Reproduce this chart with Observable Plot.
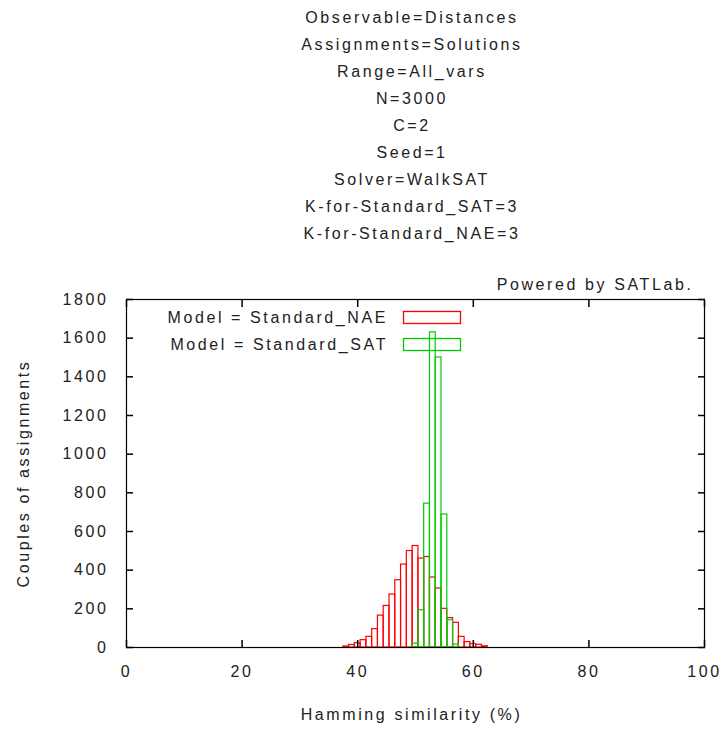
<!DOCTYPE html>
<html><head><meta charset="utf-8">
<script src="https://cdn.jsdelivr.net/npm/d3@7"></script>
<script src="https://cdn.jsdelivr.net/npm/@observablehq/plot@0.6"></script>
<style>
body{margin:0;background:#fff;font-family:"Liberation Sans",Arial,sans-serif;width:721px;height:732px;overflow:hidden;position:relative}
#titles{position:absolute;left:0;top:4px;width:824px;text-align:center;font-size:16px;line-height:27px;color:#222;letter-spacing:2.6px}
#chart{position:absolute;left:0;top:250px}
.lg{position:absolute;font-size:16px;color:#222;letter-spacing:2.6px;line-height:18px;white-space:nowrap;text-align:right}
.sw{position:absolute;left:402px;width:60px;height:16px;overflow:visible}
</style></head><body>
<div id="titles"></div>
<div id="chart"></div>
<div id="legend"></div>
<script>
const titleLines = ["Observable=Distances","Assignments=Solutions","Range=All_vars","N=3000","C=2","Seed=1","Solver=WalkSAT","K-for-Standard_SAT=3","K-for-Standard_NAE=3"];
const seriesNames = ["Model = Standard_NAE","Model = Standard_SAT"];
const seriesColors = ["#ff0000","#00cc00"];
const naeBins = [38,39,40,41,42,43,44,45,46,47,48,49,50,51,52,53,54,55,56,57,58,59,60,61,62];
const naeCounts = [5,13,22,38,55,95,165,215,274,348,429,499,525,460,468,362,305,200,152,128,55,28,18,14,6];
const satBins = [50,51,52,53,54,55,56,57];
const satCounts = [20,193,744,1630,1500,688,141,15];
const xTicks = [0,20,40,60,80,100];
const yTicks = [0,200,400,600,800,1000,1200,1400,1600,1800];
const xLabel = "Hamming similarity (%)";
const yLabel = "Couples of assignments";
const powered = "Powered by SATLab.";

document.getElementById("titles").innerHTML = titleLines.map(t => `<div>${t}</div>`).join("");

const naeData = naeBins.map((b, i) => ({x: b, y: naeCounts[i]}));
const satData = satBins.map((b, i) => ({x: b, y: satCounts[i]}));

const T = 7; // inward tick length (px)
const noText = () => "";
const tk = {stroke: "#000", strokeWidth: 1.5, tickFormat: noText, label: null};

const chart = Plot.plot({
  width: 721, height: 482,
  marginTop: 49, marginBottom: 85, marginLeft: 126, marginRight: 17,
  style: {fontFamily: '"Liberation Sans", Arial, sans-serif', fontSize: "16px", color: "#000", letterSpacing: "2.6px", background: "#fff"},
  x: {domain: [0, 100]},
  y: {domain: [0, 1800]},
  marks: [
    Plot.rectY(naeData, {x1: d => d.x - 0.5, x2: d => d.x + 0.5, y1: 0, y2: "y", fill: "none", stroke: seriesColors[0], strokeWidth: 1.2}),
    Plot.rectY(satData, {x1: d => d.x - 0.5, x2: d => d.x + 0.5, y1: 0, y2: "y", fill: "none", stroke: seriesColors[1], strokeWidth: 1.2}),
    Plot.frame({stroke: "#000", strokeWidth: 1.2}),
    // inward mirrored ticks (gnuplot style): outward axis ticks shifted into the frame
    Plot.axisX(xTicks, {anchor: "bottom", tickSize: T, dy: -T, ...tk}),
    Plot.axisX(xTicks, {anchor: "top", tickSize: T, dy: T, ...tk}),
    Plot.axisY(yTicks, {anchor: "left", tickSize: T, dx: T, ...tk}),
    Plot.axisY(yTicks, {anchor: "right", tickSize: T, dx: -T, ...tk}),
    Plot.axisX(xTicks, {anchor: "bottom", tickSize: 0, tickPadding: 18, label: null, tickFormat: d3.format("d"), fill: "#222"}),
    Plot.axisY(yTicks, {anchor: "left", tickSize: 0, tickPadding: 18, label: null, tickFormat: d3.format("d"), fill: "#222"}),
    Plot.text([xLabel], {frameAnchor: "bottom", dy: 72, dx: -4, fill: "#222"}),
    Plot.text([yLabel], {frameAnchor: "left", textAnchor: "middle", dx: -103, rotate: -90, fill: "#222"}),
    Plot.text([powered], {frameAnchor: "top-right", textAnchor: "end", dx: -11, dy: -21, fill: "#222"})
  ]
});
document.getElementById("chart").appendChild(chart);

// legend (inside plot area, top)
const lg = document.getElementById("legend");
const rowsY = [318, 345];
seriesNames.forEach((name, i) => {
  const t = document.createElement("div");
  t.className = "lg";
  t.style.right = (721 - 388) + "px";
  t.style.top = (rowsY[i] - 9) + "px";
  t.textContent = name;
  lg.appendChild(t);
  const s = document.createElementNS("http://www.w3.org/2000/svg", "svg");
  s.setAttribute("class", "sw");
  s.setAttribute("width", "60");
  s.setAttribute("height", "16");
  s.style.top = (rowsY[i] - 8) + "px";
  const r = document.createElementNS("http://www.w3.org/2000/svg", "rect");
  r.setAttribute("x", "1.5"); r.setAttribute("y", "1.5");
  r.setAttribute("width", "57"); r.setAttribute("height", "12");
  r.setAttribute("fill", "none");
  r.setAttribute("stroke", seriesColors[i]);
  r.setAttribute("stroke-width", "1.3");
  s.appendChild(r);
  lg.appendChild(s);
});
</script>
</body></html>
